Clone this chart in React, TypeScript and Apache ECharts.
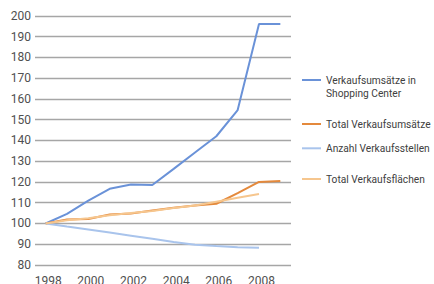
import React, { useEffect, useRef } from "react";
import * as echarts from "echarts";

const years = ["1998", "1999", "2000", "2001", "2002", "2003", "2004", "2005", "2006", "2007", "2008", "2009"];
const umsaetzeSC = [100, 104.6, 111, 116.7, 118.8, 118.5, 126.3, 134.2, 142, 154.6, 196, 196];
const totalUmsaetze = [100, 101.9, 102.2, 104.3, 104.8, 106.2, 107.6, 108.7, 109.5, 114.6, 120, 120.5];
const anzahlStellen = [100, 98.5, 97.1, 95.6, 94.1, 92.6, 91.1, 89.7, 89.1, 88.6, 88.3, null];
const totalFlaechen = [100, 101.5, 102.5, 104, 105, 106, 107.4, 108.6, 110.5, 112.4, 114.2, null];

const names = ["Verkaufsumsätze in Shopping Center", "Total Verkaufsumsätze", "Anzahl Verkaufsstellen", "Total Verkaufsflächen"];
const colors = ["#6a92d8", "#e4893c", "#a9c4ec", "#f6c68e"];

export default function App() {
  const ref = useRef<HTMLDivElement>(null);
  useEffect(() => {
    const chart = echarts.init(ref.current!, null, { renderer: "svg" });
    const font = "Roboto";
    const legendBase = (i: number, top: number) => ({
      show: true,
      left: 302,
      top,
      orient: "vertical",
      padding: 0,
      icon: "rect",
      itemWidth: 19,
      itemHeight: 2,
      data: [{ name: names[i], itemStyle: { color: colors[i] } }],
      textStyle: { fontFamily: font, fontSize: 10.2, color: "#404040", lineHeight: 13 },
      selectedMode: false,
    });
    chart.setOption({
      animation: false,
      grid: { left: 35, top: 15.8, width: 256, height: 249.2, containLabel: false, outerBoundsMode: "none" },
      legend: [
        {
          ...legendBase(0, 60.5),
          formatter: () => " \nVerkaufsumsätze in\nShopping Center",
        },
        legendBase(1, 117.5),
        legendBase(2, 141.8),
        legendBase(3, 172.5),
      ],
      xAxis: {
        type: "category",
        data: years,
        boundaryGap: true,
        axisLine: { show: false },
        axisTick: { show: false },
        axisLabel: {
          interval: 1,
          margin: 10,
          padding: [0, 0, 0, 5],
          fontFamily: font,
          fontSize: 12,
          color: "#505050",
        },
      },
      yAxis: {
        type: "value",
        min: 80,
        max: 200,
        interval: 10,
        axisLine: { show: false },
        axisTick: { show: false },
        axisLabel: { margin: 4, fontFamily: font, fontSize: 12, color: "#505050" },
        splitLine: { lineStyle: { color: "#a6a6a6", width: 1.3 } },
      },
      series: [umsaetzeSC, totalUmsaetze, anzahlStellen, totalFlaechen].map((d, i) => ({
        name: names[i],
        type: "line",
        data: d,
        symbol: "none",
        lineStyle: { color: colors[i], width: 2 },
        itemStyle: { color: colors[i] },
      })),
    });
    return () => chart.dispose();
  }, []);
  return <div ref={ref} style={{ width: 434, height: 284, position: "absolute", left: 0, top: 0 }} />;
}
